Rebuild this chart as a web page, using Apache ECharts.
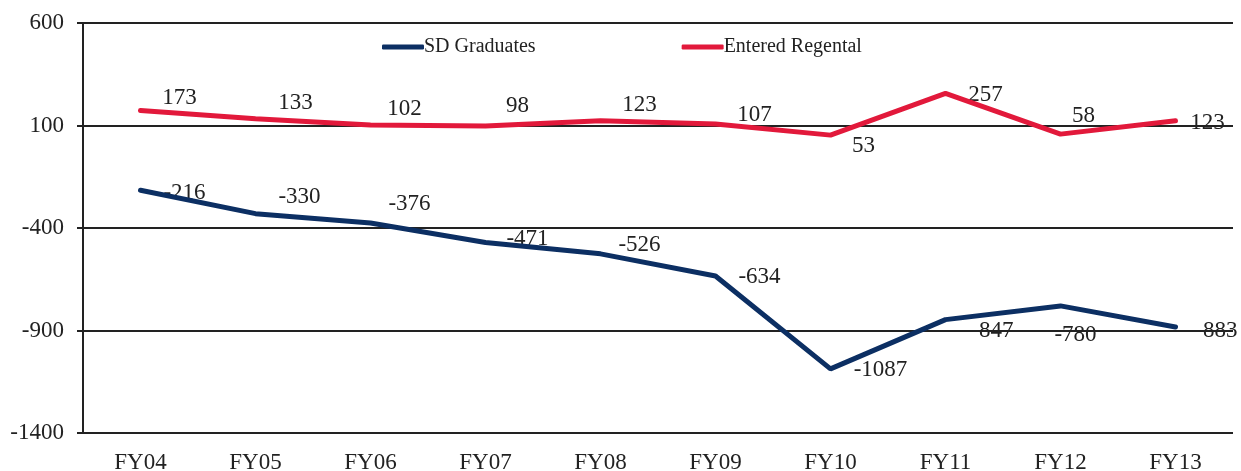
<!DOCTYPE html>
<html>
<head>
<meta charset="utf-8">
<script src="https://cdn.jsdelivr.net/npm/echarts@6/dist/echarts.min.js"></script>
<style>
html,body{margin:0;padding:0;background:#fff;}
#c{width:1241px;height:471px;}
</style>
</head>
<body>
<div id="c"></div>
<script>
var categories = ['FY04','FY05','FY06','FY07','FY08','FY09','FY10','FY11','FY12','FY13'];
var sdGraduates = [-216,-330,-376,-471,-526,-634,-1087,-847,-780,-883];
var enteredRegental = [173,133,102,98,123,107,53,257,58,123];
var yTicks = {min:-1400, max:600, interval:500};

// label placement (styling only)
var redOffsets = [[39,-13],[40,-16],[34,-16],[32,-20],[39,-16],[39,-9],[33,11],[40,2],[23,-18],[32,2]];
var blueOffsets = [[44,3],[44,-17],[39,-19],[42,-4],[39,-9],[44,1],[50,1],[47,11],[15,29],[41,4]];

var FONT = '"Liberation Serif","Times New Roman",serif';
var BLUE = '#0c2f63';
var RED = '#e2193b';
var TXT = '#222';

function build(vals, offs) {
  return vals.map(function (v, i) {
    return { value: v, label: { offset: offs[i] } };
  });
}

function lineSeries(name, vals, color) {
  return {
    name: name,
    type: 'line',
    data: vals,
    symbol: 'none',
    lineStyle: { color: color, width: 5, cap: 'round' },
    itemStyle: { color: color },
    z: 3
  };
}
function labelSeries(name, vals, offs) {
  return {
    name: name,
    type: 'line',
    data: build(vals, offs),
    symbol: 'circle',
    symbolSize: 0.1,
    lineStyle: { width: 0, color: 'rgba(0,0,0,0)' },
    itemStyle: { color: 'rgba(0,0,0,0)', borderWidth: 0 },
    label: { show: true, position: 'inside', fontFamily: FONT, fontSize: 23, color: TXT },
    silent: true,
    z: 0
  };
}

var chart = echarts.init(document.getElementById('c'));
chart.setOption({
  animation: false,
  backgroundColor: '#fff',
  grid: { left: 83, right: 8, top: 23, bottom: 38, containLabel: false, outerBoundsMode: 'none' },
  legend: {
    top: 32,
    left: 377,
    itemGap: 146,
    itemWidth: 42,
    itemHeight: 5,
    icon: 'roundRect',
    textStyle: { fontFamily: FONT, fontSize: 20, color: TXT, padding: [0, 0, 0, -5] },
    data: ['SD Graduates', 'Entered Regental']
  },
  xAxis: {
    type: 'category',
    data: categories,
    boundaryGap: true,
    axisLine: { show: false },
    axisTick: { show: false },
    axisLabel: { fontFamily: FONT, fontSize: 23, color: TXT, margin: 18 }
  },
  yAxis: {
    type: 'value',
    z: 1,
    min: yTicks.min, max: yTicks.max, interval: yTicks.interval,
    axisLine: { show: true, lineStyle: { color: '#222', width: 2 } },
    axisTick: { show: true, length: 6, lineStyle: { color: '#222', width: 2 } },
    axisLabel: { fontFamily: FONT, fontSize: 23, color: TXT, margin: 19, formatter: function (v) { return String(v); } },
    splitLine: { show: true, lineStyle: { color: '#222', width: 2 } }
  },
  series: [
    labelSeries('sd-labels', sdGraduates, blueOffsets),
    labelSeries('er-labels', enteredRegental, redOffsets),
    lineSeries('SD Graduates', sdGraduates, BLUE),
    lineSeries('Entered Regental', enteredRegental, RED)
  ]
});
</script>
</body>
</html>
